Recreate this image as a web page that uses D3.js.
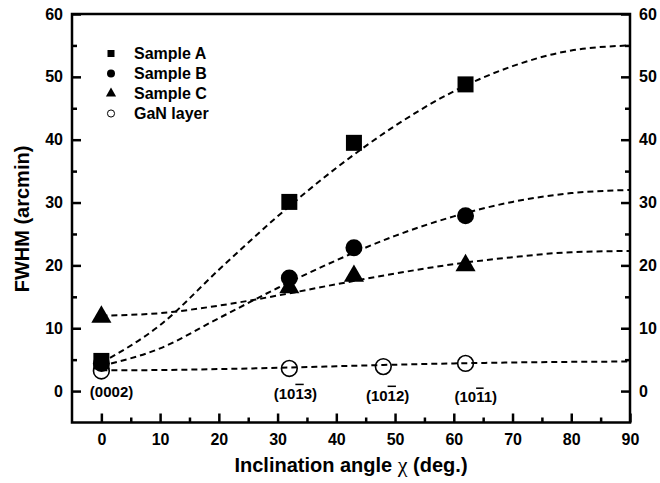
<!DOCTYPE html>
<html>
<head>
<meta charset="utf-8">
<script src="https://cdn.jsdelivr.net/npm/d3@7"></script>
<style>
  body { margin: 0; background: #fff; }
  text { font-family: "Liberation Sans", Arial, sans-serif; font-weight: bold; }
</style>
</head>
<body>
<svg width="660" height="483"></svg>
<script>
// measured points
var angles = [0, 32, 43, 62];
var sampleA = [4.8, 30.1, 39.5, 48.8];
var sampleB = [4.4, 18.0, 22.8, 27.9];
var sampleC = [11.8, 16.5, 18.3, 20.0];
var ganAngles = [0, 32, 48, 62];
var ganLayer = [3.2, 3.6, 3.9, 4.4];

// fitted curves
var fitAngles = [0, 10, 20, 30, 40, 50, 60, 70, 80, 90];
var fitA = [4.5, 10.5, 19.3, 27.8, 35.5, 42.2, 47.7, 51.7, 54.2, 55.0];
var fitB = [4.0, 6.8, 11.6, 16.4, 20.8, 24.7, 27.8, 30.1, 31.5, 32.0];
var fitC = [12.0, 12.4, 13.6, 15.2, 17.0, 18.7, 20.2, 21.3, 22.1, 22.3];
var fitGaN = [3.3, 3.35, 3.5, 3.7, 3.95, 4.2, 4.4, 4.55, 4.65, 4.7];

var legendNames = ["Sample A", "Sample B", "Sample C", "GaN layer"];
var xTicks = [0, 10, 20, 30, 40, 50, 60, 70, 80, 90];
var yTicks = [0, 10, 20, 30, 40, 50, 60];

var svg = d3.select("svg"),
    x0 = 72, x1 = 630, y0 = 14, y1 = 422.5;

var x = d3.scaleLinear().domain([-5, 90]).range([x0, x1]);
var y = d3.scaleLinear().domain([-5, 60]).range([y1, y0]);

// fit lines
var line = d3.line()
    .x(function (d) { return x(d[0]); })
    .y(function (d) { return y(d[1]); })
    .curve(d3.curveMonotoneX);

[fitA, fitB, fitC, fitGaN].forEach(function (s) {
  svg.append("path")
      .datum(fitAngles.map(function (a, i) { return [a, s[i]]; }))
      .attr("d", line)
      .attr("fill", "none")
      .attr("stroke", "#000")
      .attr("stroke-width", 2)
      .attr("stroke-dasharray", "6,4");
});

// markers
function pts(xs, ys) { return xs.map(function (a, i) { return [a, ys[i]]; }); }

var series = [
  { data: pts(angles, sampleB), type: d3.symbolCircle, size: 227, fill: "#000" },
  { data: pts(angles, sampleA), type: d3.symbolSquare, size: 256, fill: "#000" },
  { data: pts(angles, sampleC), type: d3.symbolTriangle, size: 175, fill: "#000" },
  { data: pts(ganAngles, ganLayer), type: d3.symbolCircle, size: 195, fill: "none" }
];

series.forEach(function (s) {
  svg.append("g").selectAll("path")
    .data(s.data)
    .enter().append("path")
      .attr("transform", function (d) { return "translate(" + x(d[0]) + "," + y(d[1]) + ")"; })
      .attr("d", d3.symbol().type(s.type).size(s.size))
      .attr("fill", s.fill)
      .attr("stroke", "#000")
      .attr("stroke-width", s.fill === "none" ? 1.6 : 0);
});

// axes
function styleAxis(g) {
  g.select(".domain").remove();
  g.selectAll("line").attr("stroke-width", 2.5);
  g.selectAll("text").attr("font-size", 16).attr("font-weight", "bold")
    .attr("font-family", "'Liberation Sans', Arial, sans-serif").attr("fill", "#000");
}

var minorX = d3.range(5, 90, 10), minorY = d3.range(5, 60, 10);

svg.append("g").attr("transform", "translate(0," + y1 + ")")
  .call(d3.axisBottom(x).tickValues(xTicks).tickSize(-9).tickPadding(11))
  .call(styleAxis);
svg.append("g").attr("transform", "translate(0," + y1 + ")")
  .call(d3.axisBottom(x).tickValues(minorX).tickSize(-5).tickFormat(""))
  .call(styleAxis);

svg.append("g").attr("transform", "translate(" + x0 + ",0)")
  .call(d3.axisLeft(y).tickValues(yTicks).tickSize(-9).tickPadding(9))
  .call(styleAxis);
svg.append("g").attr("transform", "translate(" + x0 + ",0)")
  .call(d3.axisLeft(y).tickValues(minorY).tickSize(-5).tickFormat(""))
  .call(styleAxis);

svg.append("g").attr("transform", "translate(" + x1 + ",0)")
  .call(d3.axisRight(y).tickValues(yTicks).tickSize(-9).tickPadding(9))
  .call(styleAxis);
svg.append("g").attr("transform", "translate(" + x1 + ",0)")
  .call(d3.axisRight(y).tickValues(minorY).tickSize(-5).tickFormat(""))
  .call(styleAxis);

svg.append("rect")
    .attr("x", x0).attr("y", y0)
    .attr("width", x1 - x0).attr("height", y1 - y0)
    .attr("fill", "none").attr("stroke", "#000").attr("stroke-width", 2.5);

// axis titles
var xt = svg.append("text")
    .attr("x", (x0 + x1) / 2).attr("y", 472)
    .attr("text-anchor", "middle").attr("font-size", 20);
xt.append("tspan").text("Inclination angle ");
xt.append("tspan").attr("font-family", "'Liberation Serif', serif").attr("font-weight", "normal")
  .attr("font-size", 22).text("\u03c7");
xt.append("tspan").text(" (deg.)");

svg.append("text")
    .attr("transform", "translate(29," + 219 + ") rotate(-90)")
    .attr("text-anchor", "middle").attr("font-size", 20)
    .text("FWHM (arcmin)");

// legend
var legendTypes = [d3.symbolSquare, d3.symbolCircle, d3.symbolTriangle, d3.symbolCircle];
var legendSizes = [49, 50, 45, 40];
var lg = svg.append("g").selectAll("g")
  .data(legendNames)
  .enter().append("g")
    .attr("transform", function (d, i) { return "translate(111," + (53.5 + i * 20) + ")"; });
lg.append("path")
    .attr("d", function (d, i) { return d3.symbol().type(legendTypes[i]).size(legendSizes[i])(); })
    .attr("fill", function (d, i) { return i === 3 ? "none" : "#000"; })
    .attr("stroke", "#000")
    .attr("stroke-width", function (d, i) { return i === 3 ? 1 : 0; });
lg.append("text")
    .attr("x", 23).attr("dy", "0.36em")
    .attr("font-size", 16)
    .text(function (d) { return d; });

// reflection labels
var planes = [
  { a: 0.2, v: 1.0, parts: ["(000", "", "2)"] },
  { a: 31.5, v: 0.7, parts: ["(10", "1", "3)"] },
  { a: 47.2, v: 0.4, parts: ["(10", "1", "2)"] },
  { a: 62.2, v: 0.1, parts: ["(10", "1", "1)"] }
];
planes.forEach(function (p) {
  var t = svg.append("text")
      .attr("x", x(p.a) + 9).attr("y", y(p.v) + 12)
      .attr("text-anchor", "middle")
      .attr("font-family", "'Liberation Serif', 'Times New Roman', serif")
      .attr("font-weight", "bold")
      .attr("font-size", 15);
  t.append("tspan").text(p.parts[0]);
  if (p.parts[1]) t.append("tspan").attr("text-decoration", "overline").text(p.parts[1]);
  t.append("tspan").text(p.parts[2]);
});
</script>
</body>
</html>
